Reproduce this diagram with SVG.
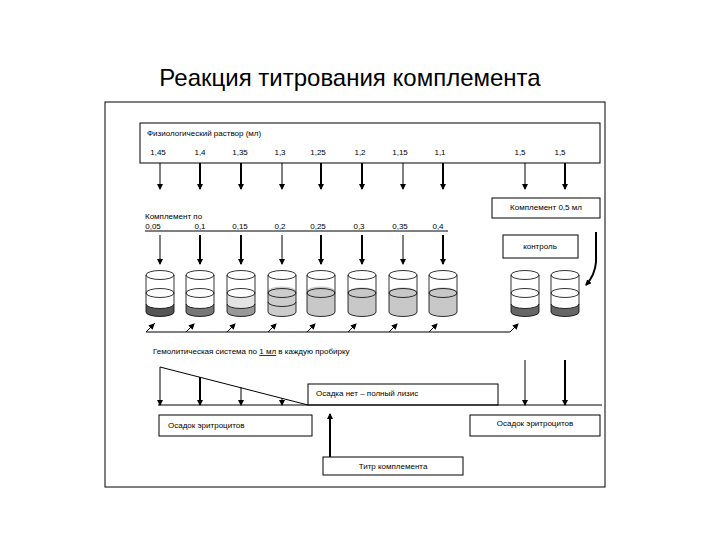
<svg xmlns="http://www.w3.org/2000/svg" width="720" height="540" viewBox="0 0 720 540">
<style>
text{font-family:"Liberation Sans",Arial,sans-serif;font-size:8px;fill:#000}
.b{fill:#fff;stroke:#000;stroke-width:1}
.l{stroke:#000;stroke-width:1;fill:none}
.t{stroke:#000;stroke-width:2;fill:none}
.tube{fill:none;stroke:#000;stroke-width:0.8}
</style>
<defs>
<marker id="a" markerWidth="6" markerHeight="6" refX="5" refY="3" orient="auto" markerUnits="userSpaceOnUse" viewBox="0 0 6 6"><path d="M0,0L6,3L0,6z"/></marker>
<g id="tb">
<path d="M-14,0V37A14,4.5 0 0 0 14,37V0" class="tube"/>
<ellipse cx="0" cy="0" rx="14" ry="4.5" class="tube"/>
<path d="M-14,18A14,4.5 0 0 0 14,18" class="tube"/>
<path d="M-14,18A14,4.5 0 0 1 14,18" class="tube"/>
</g>
</defs>
<rect width="720" height="540" fill="#fff"/>
<text x="350" y="86" text-anchor="middle" style="font-size:24px">Реакция титрования комплемента</text>
<rect x="105" y="102" width="500" height="385" class="b"/>
<g id="n-fiz"><rect x="140" y="123" width="460" height="40" class="b"/>
<text x="147" y="136">Физиологический раствор (мл)</text>
<g text-anchor="middle"><text x="158" y="155">1,45</text><text x="200" y="155">1,4</text><text x="240" y="155">1,35</text><text x="280" y="155">1,3</text><text x="318" y="155">1,25</text><text x="360" y="155">1,2</text><text x="400" y="155">1,15</text><text x="440" y="155">1,1</text><text x="520" y="155">1,5</text><text x="560" y="155">1,5</text></g></g>
<g id="n-kompl05"><rect x="492" y="198" width="108" height="20" class="b"/><text x="546" y="210" text-anchor="middle">Комплемент 0,5 мл</text></g>
<g id="n-kompl"><text x="145" y="219">Комплемент по</text>
<g text-anchor="middle"><text x="153" y="229">0,05</text><text x="200" y="229">0,1</text><text x="240" y="229">0,15</text><text x="280" y="229">0,2</text><text x="318" y="229">0,25</text><text x="359" y="229">0,3</text><text x="400" y="229">0,35</text><text x="438" y="229">0,4</text></g>
<line x1="145" y1="231" x2="448" y2="231" class="l"/></g>
<g id="n-kontrol"><rect x="503" y="235" width="75" height="23" class="b"/><text x="540" y="249" text-anchor="middle">контроль</text></g>
<g id="tubes">
<g transform="translate(160,275)"><path d="M-14,29A14,4.5 0 0 0 14,29V37A14,4.5 0 0 1 -14,37z" fill="#555"/><use href="#tb"/><path d="M-14,29A14,4.5 0 0 0 14,29" class="tube"/></g>
<g transform="translate(200,275)"><path d="M-14,29A14,4.5 0 0 0 14,29V37A14,4.5 0 0 1 -14,37z" fill="#777"/><use href="#tb"/><path d="M-14,29A14,4.5 0 0 0 14,29" class="tube"/></g>
<g transform="translate(241,275)"><path d="M-14,18A14,4.5 0 0 0 14,18V37A14,4.5 0 0 1 -14,37z" fill="#e4e4e4"/><path d="M-14,29A14,4.5 0 0 0 14,29V37A14,4.5 0 0 1 -14,37z" fill="#999"/><use href="#tb"/><path d="M-14,29A14,4.5 0 0 0 14,29" class="tube"/></g>
<g transform="translate(282,275)"><path d="M-14,16A14,4.5 0 0 1 14,16V37A14,4.5 0 0 1 -14,37z" fill="#ccc"/><use href="#tb"/><path d="M-14,27A14,4.5 0 0 0 14,27" class="tube"/></g>
<g transform="translate(321,275)"><path d="M-14,16A14,4.5 0 0 1 14,16V37A14,4.5 0 0 1 -14,37z" fill="#c8c8c8"/><use href="#tb"/></g>
<g transform="translate(362,275)"><path d="M-14,17A14,4.5 0 0 1 14,17V37A14,4.5 0 0 1 -14,37z" fill="#c8c8c8"/><use href="#tb"/></g>
<g transform="translate(403,275)"><path d="M-14,17A14,4.5 0 0 1 14,17V37A14,4.5 0 0 1 -14,37z" fill="#c8c8c8"/><use href="#tb"/></g>
<g transform="translate(443,275)"><path d="M-14,17A14,4.5 0 0 1 14,17V37A14,4.5 0 0 1 -14,37z" fill="#c8c8c8"/><use href="#tb"/></g>
<g transform="translate(525,275)"><path d="M-14,29A14,4.5 0 0 0 14,29V37A14,4.5 0 0 1 -14,37z" fill="#666"/><use href="#tb"/><path d="M-14,29A14,4.5 0 0 0 14,29" class="tube"/></g>
<g transform="translate(565,275)"><path d="M-14,29A14,4.5 0 0 0 14,29V37A14,4.5 0 0 1 -14,37z" fill="#666"/><use href="#tb"/><path d="M-14,29A14,4.5 0 0 0 14,29" class="tube"/></g>
</g>
<text x="153" y="354">Гемолитическая система по <tspan text-decoration="underline">1 мл</tspan> в каждую пробирку</text>
<g id="n-lizis"><rect x="308" y="384" width="190" height="21" class="b"/><text x="316" y="396">Осадка нет – полный лизис</text></g>
<g id="n-osadok1"><rect x="159" y="415" width="153" height="21" class="b"/><text x="168" y="428">Осадок эритроцитов</text></g>
<g id="n-osadok2"><rect x="470" y="415" width="130" height="21" class="b"/><text x="535" y="426" text-anchor="middle">Осадок эритроцитов</text></g>
<g id="n-titr"><rect x="323" y="457" width="140" height="18" class="b"/><text x="393" y="469" text-anchor="middle">Титр комплемента</text></g>
<g id="connectors" marker-end="url(#a)">
<path class="l" d="M160,163V189"/><path class="t" d="M200,163V189"/><path class="t" d="M241,163V189"/><path class="l" d="M282,163V189"/><path class="t" d="M321,163V189"/><path class="t" d="M362,163V189"/><path class="l" d="M403,163V189"/><path class="t" d="M443,163V189"/><path class="l" d="M525,163V189"/><path class="t" d="M565,163V189"/>
<path class="l" d="M160,235V264"/><path class="t" d="M200,235V264"/><path class="t" d="M241,235V264"/><path class="l" d="M282,235V264"/><path class="t" d="M321,235V264"/><path class="t" d="M362,235V264"/><path class="l" d="M403,235V264"/><path class="t" d="M443,235V264"/>
<path class="t" d="M596,232V262Q595,275 586,285"/>
<path class="l" d="M146,332L155,323" marker-end="none"/>
<path class="l" d="M146,332L154,324"/><path class="l" d="M186,332L194,324"/><path class="l" d="M227,332L235,324"/><path class="l" d="M268,332L276,324"/><path class="l" d="M307,332L315,324"/><path class="l" d="M348,332L356,324"/><path class="l" d="M389,332L397,324"/><path class="l" d="M429,332L437,324"/><path class="l" d="M510,332L518,324"/>
<path class="l" d="M146,332H510" marker-end="none"/>
<path class="l" d="M160,367L308,405" marker-end="none"/>
<path class="l" d="M160,367V405"/><path class="t" d="M200,377V405"/><path class="l" d="M241,387V405"/><path class="l" d="M282,398V405"/>
<path class="l" d="M158,405H602" marker-end="none"/>
<path class="l" d="M525,360V405"/><path class="t" d="M565,360V405"/>
<path class="t" d="M330,457V414"/>
</g>
</svg>
